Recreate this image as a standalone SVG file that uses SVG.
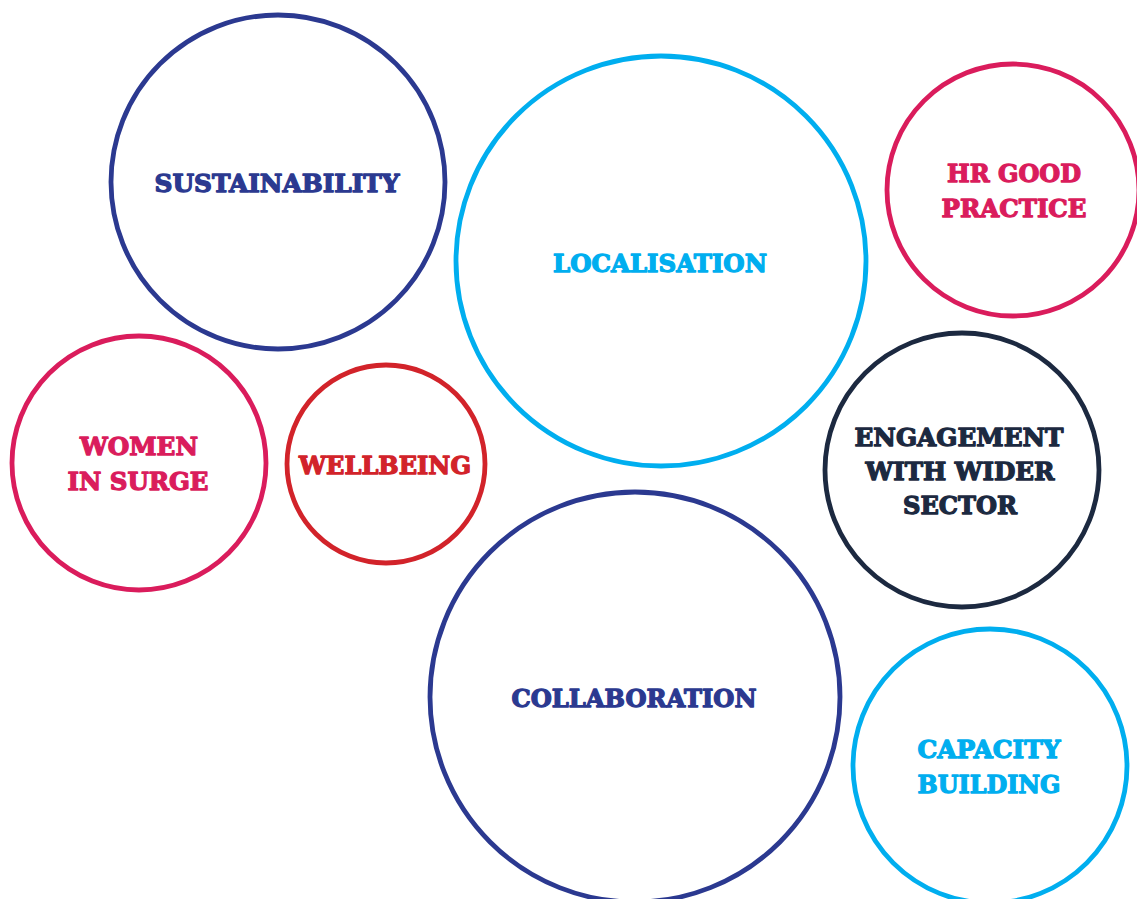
<svg xmlns="http://www.w3.org/2000/svg" width="1137" height="899" viewBox="0 0 1137 899">
<style>
circle{fill:none;stroke-width:4.8}
text{font-family:"DejaVu Serif","Liberation Serif",serif;font-weight:bold;font-size:25px;text-anchor:middle;stroke-width:1.3;stroke-linejoin:round}
.navy circle{stroke:#2b3990}.navy text{fill:#2b3990;stroke:#2b3990}
.cyan circle{stroke:#00aeef}.cyan text{fill:#00aeef;stroke:#00aeef}
.crim circle{stroke:#da1c5c}.crim text{fill:#da1c5c;stroke:#da1c5c}
.red circle{stroke:#d2232a}.red text{fill:#d2232a;stroke:#d2232a}
.dark circle{stroke:#1c2940}.dark text{fill:#1c2940;stroke:#1c2940}
</style>
<rect width="1137" height="899" fill="#fff"/>
<g id="sustainability" class="navy"><circle cx="278" cy="182" r="167"/><text x="277" y="192" textLength="245" lengthAdjust="spacingAndGlyphs">SUSTAINABILITY</text></g>
<g id="localisation" class="cyan"><circle cx="661" cy="261" r="205"/><text x="660" y="272" textLength="214" lengthAdjust="spacingAndGlyphs">LOCALISATION</text></g>
<g id="hr-good-practice" class="crim"><circle cx="1013" cy="190" r="126"/><text x="1014" y="182" textLength="134" lengthAdjust="spacingAndGlyphs">HR GOOD</text><text x="1014" y="217" textLength="145" lengthAdjust="spacingAndGlyphs">PRACTICE</text></g>
<g id="women-in-surge" class="crim"><circle cx="139" cy="463" r="127"/><text x="139" y="455" textLength="118" lengthAdjust="spacingAndGlyphs">WOMEN</text><text x="138" y="490" textLength="141" lengthAdjust="spacingAndGlyphs">IN SURGE</text></g>
<g id="wellbeing" class="red"><circle cx="386" cy="464" r="99"/><text x="385" y="474" textLength="172" lengthAdjust="spacingAndGlyphs">WELLBEING</text></g>
<g id="engagement" class="dark"><circle cx="962" cy="470" r="137"/><text x="959" y="446" textLength="209" lengthAdjust="spacingAndGlyphs">ENGAGEMENT</text><text x="960" y="480" textLength="189" lengthAdjust="spacingAndGlyphs">WITH WIDER</text><text x="960" y="514" textLength="114" lengthAdjust="spacingAndGlyphs">SECTOR</text></g>
<g id="collaboration" class="navy"><circle cx="635" cy="697" r="205"/><text x="634" y="707" textLength="245" lengthAdjust="spacingAndGlyphs">COLLABORATION</text></g>
<g id="capacity-building" class="cyan"><circle cx="990" cy="766" r="137"/><text x="989" y="758" textLength="143" lengthAdjust="spacingAndGlyphs">CAPACITY</text><text x="989" y="793" textLength="143" lengthAdjust="spacingAndGlyphs">BUILDING</text></g>
</svg>
